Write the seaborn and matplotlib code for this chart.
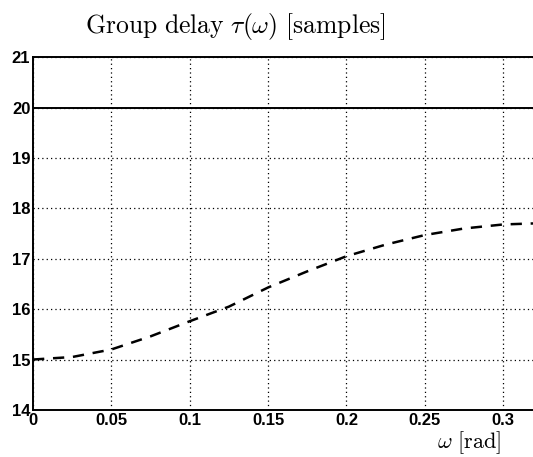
import matplotlib
matplotlib.use("Agg")
import matplotlib.pyplot as plt
import pandas as pd
import seaborn as sns

# values
omega = [0.0, 0.025, 0.05, 0.075, 0.1, 0.125, 0.15, 0.175, 0.2, 0.225, 0.25, 0.275, 0.3, 0.319]
tau_dashed = [15.0, 15.05, 15.2, 15.46, 15.76, 16.05, 16.43, 16.75, 17.05, 17.28, 17.47, 17.6, 17.68, 17.7]
tau_solid = [20.0] * len(omega)
xticks = [0, 0.05, 0.1, 0.15, 0.2, 0.25, 0.3]
xticklabels = ["0", "0.05", "0.1", "0.15", "0.2", "0.25", "0.3"]
yticks = [14, 15, 16, 17, 18, 19, 20, 21]

sns.set_style("white")
plt.rcParams["font.family"] = ["Liberation Sans", "DejaVu Sans"]
plt.rcParams["mathtext.fontset"] = "cm"

df = pd.DataFrame({"omega": omega, "dashed": tau_dashed, "solid": tau_solid})

fig = plt.figure(figsize=(5.33, 4.57), dpi=100)
ax = fig.add_axes([0.062, 0.103, 0.938, 0.772])

sns.lineplot(data=df, x="omega", y="solid", ax=ax, color="black", lw=1.4)
sns.lineplot(data=df, x="omega", y="dashed", ax=ax, color="black", lw=1.8,
             linestyle=(0, (4.5, 3.5)))

ax.set_xlim(0, 0.319)
ax.set_ylim(14, 21)
ax.set_xticks(xticks)
ax.set_xticklabels(xticklabels)
ax.set_yticks(yticks)
ax.grid(True, color="black", linestyle=(0, (1, 2.5)), linewidth=0.9)
ax.tick_params(direction="in", length=4, width=1, colors="black", pad=2,
               labelsize=12)
for lab in ax.get_xticklabels() + ax.get_yticklabels():
    lab.set_fontweight("bold")
for s in ["left", "bottom", "top"]:
    ax.spines[s].set_color("black")
    ax.spines[s].set_linewidth(1.4)
ax.spines["right"].set_visible(False)
ax.set_xlabel("")
ax.set_ylabel("")

fig.text(0.442, 0.975, r"$\mathrm{Group\ delay}\ \tau(\omega)\ \mathrm{[samples]}$",
         ha="center", va="top", fontsize=18.5, color="black")
fig.text(0.94, 0.002, r"$\omega\ \mathrm{[rad]}$", ha="right", va="bottom",
         fontsize=16, color="black")

fig.savefig("out.png", dpi=100)
